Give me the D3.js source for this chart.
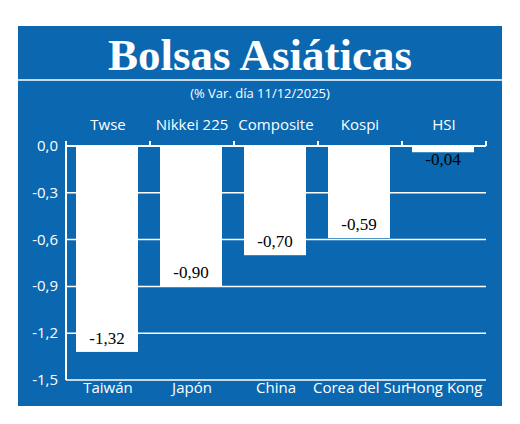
<!DOCTYPE html><html><head><meta charset="utf-8"><script src="https://cdn.jsdelivr.net/npm/d3@7"></script>
<style>body{margin:0;background:#fff}text{font-family:"Liberation Sans Narrow","Open Sans",sans-serif}</style></head><body>
<svg id="c" width="520" height="424"></svg>
<script>
const topLabels=["Twse","Nikkei 225","Composite","Kospi","HSI"];
const countries=["Taiwán","Japón","China","Corea del Sur","Hong Kong"];
const values=[-1.32,-0.90,-0.70,-0.59,-0.04];
const ticks=[0,-0.3,-0.6,-0.9,-1.2,-1.5];
const blue="#0b68b0";
const svg=d3.select("#c");
svg.append("rect").attr("x",18).attr("y",26).attr("width",484).attr("height",380).attr("fill",blue);
svg.append("line").attr("x1",18).attr("x2",502).attr("y1",80).attr("y2",80).attr("stroke","#fff").attr("stroke-width",1.5);
svg.append("text").attr("x",260).attr("y",70).attr("text-anchor","middle").attr("fill","#fff")
 .style("font-family","Liberation Serif,serif").style("font-weight","bold").style("font-size","45px").text("Bolsas Asiáticas");
svg.append("text").attr("x",260).attr("y",98).attr("text-anchor","middle").attr("fill","#fff").style("font-size","13px").text("(% Var. día  11/12/2025)");
const x=d3.scaleBand().domain(countries).range([66,486]).paddingInner(0).paddingOuter(0);
const y=d3.scaleLinear().domain([-1.5,0]).range([380,146]);
const fmt=d=>d3.format(".1f")(d).replace(".",",").replace("−","-");
svg.append("g").selectAll("line").data(ticks.slice(1)).join("line").attr("x1",66).attr("x2",486)
 .attr("y1",d=>y(d)).attr("y2",d=>y(d)).attr("stroke","#fff").attr("stroke-width",1.5);
svg.append("g").selectAll("text").data(ticks).join("text").attr("x",58).attr("y",d=>y(d)+5).attr("text-anchor","end")
 .attr("fill","#fff").style("font-size","15px").text(fmt);
const bw=62;
svg.append("g").selectAll("rect").data(values).join("rect").attr("x",(d,i)=>x(countries[i])+10).attr("width",bw)
 .attr("y",y(0)).attr("height",d=>y(d)-y(0)).attr("fill","#fff");
svg.append("line").attr("x1",66).attr("x2",66).attr("y1",146).attr("y2",380).attr("stroke","#fff").attr("stroke-width",2);
svg.append("line").attr("x1",66).attr("x2",486).attr("y1",146).attr("y2",146).attr("stroke","#fff").attr("stroke-width",2);
svg.append("g").selectAll("line").data(countries.concat(["end"])).join("line")
 .attr("x1",(d,i)=>66+i*x.bandwidth()).attr("x2",(d,i)=>66+i*x.bandwidth()).attr("y1",146).attr("y2",141).attr("stroke","#fff").attr("stroke-width",2);
svg.append("g").selectAll("text").data(values).join("text").attr("x",(d,i)=>x(countries[i])+10+bw/2)
 .attr("y",d=>{const e=y(d);return e-y(0)<20?e+13:e-8;}).attr("text-anchor","middle").attr("fill","#000")
 .style("font-family","Liberation Serif,serif").style("font-size","17px").text(d=>d3.format(".2f")(d).replace(".",",").replace("−","-"));
svg.append("g").selectAll("text").data(topLabels).join("text").attr("x",(d,i)=>x(countries[i])+x.bandwidth()/2).attr("y",130)
 .attr("text-anchor","middle").attr("fill","#fff").style("font-size","15px").text(d=>d);
svg.append("g").selectAll("text").data(countries).join("text").attr("x",(d,i)=>x(d)+x.bandwidth()/2).attr("y",393)
 .attr("text-anchor","middle").attr("fill","#fff").style("font-size","15px").text(d=>d);
</script></body></html>
